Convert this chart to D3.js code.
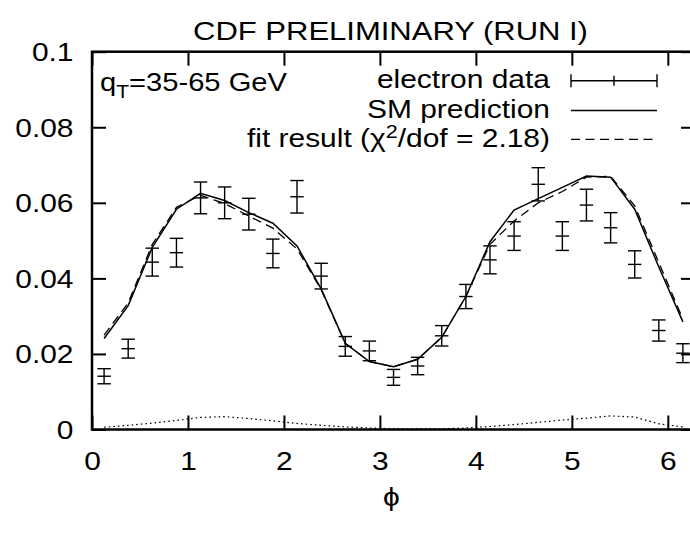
<!DOCTYPE html>
<html>
<head>
<meta charset="utf-8">
<script src="https://cdn.jsdelivr.net/npm/d3@7"></script>
<style>
  html, body { margin: 0; padding: 0; background: #fff; }
  svg { display: block; }
  text { font-family: "Liberation Sans", Arial, sans-serif; fill: #000; }
</style>
</head>
<body>
<svg id="chart" width="690" height="538"></svg>
<script>
// phi bin centres (25 bins over 0..2pi)
const phiBins = [0.126, 0.377, 0.628, 0.880, 1.131, 1.382, 1.634, 1.885, 2.136, 2.388,
                 2.639, 2.890, 3.142, 3.393, 3.644, 3.896, 4.147, 4.398, 4.650, 4.901,
                 5.152, 5.404, 5.655, 5.906, 6.157];

// electron data and its statistical errors
const dataValues = [0.0141, 0.0214, 0.0443, 0.0468, 0.0613, 0.0600, 0.0570, 0.0466, 0.0616, 0.0406,
                    0.0220, 0.0208, 0.0138, 0.0168, 0.0248, 0.0352, 0.0449, 0.0512, 0.0649, 0.0512,
                    0.0594, 0.0534, 0.0437, 0.0262, 0.0202];
const dataErrors = [0.0020, 0.0025, 0.0037, 0.0038, 0.0042, 0.0042, 0.0042, 0.0038, 0.0043, 0.0034,
                    0.0026, 0.0026, 0.0021, 0.0023, 0.0027, 0.0032, 0.0037, 0.0038, 0.0044, 0.0038,
                    0.0042, 0.0040, 0.0036, 0.0028, 0.0025];

// Standard Model prediction
const smValues = [0.0241, 0.0328, 0.0482, 0.0583, 0.0625, 0.0606, 0.0574, 0.0546, 0.0486, 0.0372,
                  0.0228, 0.0180, 0.0166, 0.0186, 0.0244, 0.0352, 0.0497, 0.0581, 0.0611, 0.0641,
                  0.0671, 0.0668, 0.0583, 0.0430, 0.0285];

// fit result
const fitValues = [0.0250, 0.0335, 0.0490, 0.0588, 0.0620, 0.0598, 0.0565, 0.0533, 0.0478, 0.0370,
                   0.0228, 0.0180, 0.0166, 0.0186, 0.0244, 0.0352, 0.0490, 0.0552, 0.0600, 0.0630,
                   0.0668, 0.0670, 0.0592, 0.0442, 0.0292];

// small contribution drawn dotted along the bottom
const smallValues = [0.0006, 0.0011, 0.0017, 0.0024, 0.0032, 0.0034, 0.0029, 0.0023, 0.0016, 0.0011,
                     0.0007, 0.0004, 0.0002, 0.0002, 0.0002, 0.0004, 0.0008, 0.0013, 0.0019, 0.0025,
                     0.0030, 0.0036, 0.0033, 0.0015, 0.0007];

const xTicks = [0, 1, 2, 3, 4, 5, 6];
const yTicks = [0, 0.02, 0.04, 0.06, 0.08, 0.1];
const yTickLabels = ["0", "0.02", "0.04", "0.06", "0.08", "0.1"];

const titleText = "CDF PRELIMINARY (RUN I)";
const legendLabels = ["electron data", "SM prediction"];

const svg = d3.select("#chart");
const FS = 26.5, SX = 1.13;           // font size and horizontal text stretch
const plotL = 92, plotR = 695, plotT = 51.7, plotB = 429.5;

const x = d3.scaleLinear().domain([0, 2 * Math.PI]).range([plotL, plotR]);
const y = d3.scaleLinear().domain([0, 0.1]).range([plotB, plotT]);

// axes with inward ticks
const gx = svg.append("g").attr("transform", `translate(0,${plotB})`)
  .call(d3.axisBottom(x).tickValues(xTicks).tickSize(-14).tickPadding(22).tickFormat(d3.format("d")));
const gxTop = svg.append("g").attr("transform", `translate(0,${plotT})`)
  .call(d3.axisTop(x).tickValues(xTicks).tickSize(-14).tickFormat(""));
const gy = svg.append("g").attr("transform", `translate(${plotL},0)`)
  .call(d3.axisLeft(y).tickValues(yTicks).tickSize(-14).tickFormat((d, i) => yTickLabels[i]));
const gyR = svg.append("g").attr("transform", `translate(${plotR},0)`)
  .call(d3.axisRight(y).tickValues(yTicks).tickSize(-14).tickFormat(""));

[gx, gxTop, gy, gyR].forEach(g => {
  g.select(".domain").remove();
  g.selectAll(".tick line").attr("stroke", "#000").attr("stroke-width", 2);
});
gx.selectAll(".tick text")
  .attr("font-size", FS).attr("font-family", "Liberation Sans, Arial, sans-serif")
  .attr("transform", `scale(${SX},1)`);
gy.selectAll(".tick text")
  .attr("font-size", FS).attr("font-family", "Liberation Sans, Arial, sans-serif")
  .attr("x", -18.5 / SX).attr("dy", "0.34em")
  .attr("transform", `scale(${SX},1)`);

// plot border
svg.append("rect")
  .attr("x", plotL).attr("y", plotT)
  .attr("width", plotR - plotL).attr("height", plotB - plotT)
  .attr("fill", "none").attr("stroke", "#000").attr("stroke-width", 2.5);

const pts = phiBins.map((p, i) => ({ p, v: dataValues[i], e: dataErrors[i], sm: smValues[i], fit: fitValues[i], s: smallValues[i] }));

// curves
const lineOf = key => d3.line().x(d => x(d.p)).y(d => y(d[key]));
svg.append("path").datum(pts).attr("d", lineOf("s"))
  .attr("fill", "none").attr("stroke", "#000").attr("stroke-width", 1.2).attr("stroke-dasharray", "1.6,3");
svg.append("path").datum(pts).attr("d", lineOf("fit"))
  .attr("fill", "none").attr("stroke", "#000").attr("stroke-width", 1.3).attr("stroke-dasharray", "9,5.5");
svg.append("path").datum(pts).attr("d", lineOf("sm"))
  .attr("fill", "none").attr("stroke", "#000").attr("stroke-width", 1.5);

// data points with error bars
const cap = 6.7;
const eb = svg.append("g").attr("stroke", "#000").attr("stroke-width", 1.4);
const g1 = eb.selectAll("g").data(pts).join("g");
g1.append("line").attr("x1", d => x(d.p)).attr("x2", d => x(d.p))
  .attr("y1", d => y(d.v - d.e)).attr("y2", d => y(d.v + d.e));
g1.append("line").attr("x1", d => x(d.p) - cap).attr("x2", d => x(d.p) + cap)
  .attr("y1", d => y(d.v - d.e)).attr("y2", d => y(d.v - d.e));
g1.append("line").attr("x1", d => x(d.p) - cap).attr("x2", d => x(d.p) + cap)
  .attr("y1", d => y(d.v + d.e)).attr("y2", d => y(d.v + d.e));
g1.append("line").attr("x1", d => x(d.p) - cap).attr("x2", d => x(d.p) + cap)
  .attr("y1", d => y(d.v)).attr("y2", d => y(d.v));

// title and axis label
svg.append("text").attr("transform", `translate(${(plotL + plotR) / 2 - 3},40) scale(1.17,1)`)
  .attr("text-anchor", "middle").attr("font-size", FS).text(titleText);
svg.append("text").attr("transform", `translate(${(plotL + plotR) / 2 - 2},506) scale(${SX},1)`)
  .attr("text-anchor", "middle").attr("font-size", FS)
  .attr("font-family", "DejaVu Sans, sans-serif").text("\u03D5");

// q_T annotation
const qt = svg.append("text").attr("transform", `translate(100,91) scale(1.1,1)`).attr("font-size", FS);
qt.append("tspan").text("q");
qt.append("tspan").attr("font-size", FS * 0.72).attr("dy", 7).text("T");
qt.append("tspan").attr("dy", -7).text("=35-65 GeV");

// legend
const lx = 550, sx1 = 571, sx2 = 657;
const rowBase = [88, 117.5, 147];
const rowMid = [80.7, 110.5, 139.3];
svg.append("text").attr("transform", `translate(${lx},${rowBase[0]}) scale(${SX},1)`)
  .attr("text-anchor", "end").attr("font-size", FS).text(legendLabels[0]);
svg.append("text").attr("transform", `translate(${lx},${rowBase[1]}) scale(${SX},1)`)
  .attr("text-anchor", "end").attr("font-size", FS).text(legendLabels[1]);
const fitLabel = svg.append("text").attr("transform", `translate(${lx},${rowBase[2]}) scale(${SX},1)`)
  .attr("text-anchor", "end").attr("font-size", FS);
fitLabel.append("tspan").text("fit result (\u03C7");
fitLabel.append("tspan").attr("font-size", FS * 0.72).attr("dy", -9).text("2");
fitLabel.append("tspan").attr("dy", 9).text("/dof = 2.18)");

const lg = svg.append("g").attr("stroke", "#000");
lg.append("line").attr("x1", sx1).attr("x2", sx2).attr("y1", rowMid[0]).attr("y2", rowMid[0]).attr("stroke-width", 1.4);
[sx1, sx2].forEach(px => lg.append("line").attr("x1", px).attr("x2", px)
  .attr("y1", rowMid[0] - 6.5).attr("y2", rowMid[0] + 6.5).attr("stroke-width", 1.4));
lg.append("line").attr("x1", (sx1 + sx2) / 2).attr("x2", (sx1 + sx2) / 2)
  .attr("y1", rowMid[0] - 5).attr("y2", rowMid[0] + 5).attr("stroke-width", 1.4);
lg.append("line").attr("x1", sx1).attr("x2", sx2).attr("y1", rowMid[1]).attr("y2", rowMid[1]).attr("stroke-width", 1.5);
lg.append("line").attr("x1", sx1).attr("x2", sx2).attr("y1", rowMid[2]).attr("y2", rowMid[2])
  .attr("stroke-width", 1.3).attr("stroke-dasharray", "9,5.5");
</script>
</body>
</html>
